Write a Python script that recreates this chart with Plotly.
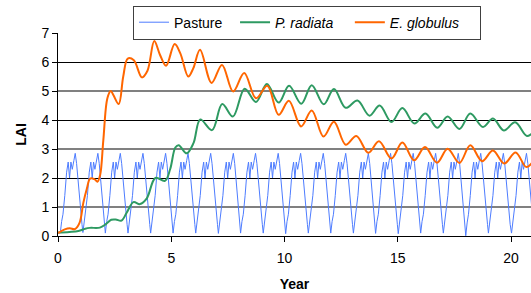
import plotly.graph_objects as go

# ---------------- data ----------------
# Pasture: one cycle per year; each cycle sampled at the same phase offsets (years after the cycle minimum)
pasture_cycle_start = [0.10, 1.10, 2.09, 3.09, 4.09, 5.08, 6.08, 7.08, 8.06, 9.06, 10.05,
                       11.05, 12.04, 13.04, 14.02, 15.02, 16.01, 17.01, 18.00, 19.00, 20.02]
pasture_phase = [0.00, 0.06, 0.12, 0.20, 0.28, 0.35, 0.41, 0.47, 0.53, 0.60, 0.66, 0.72, 0.80, 0.86, 0.92, 0.96]
pasture_lai = [
    [0.10, 0.50, 0.75, 1.40, 2.20, 2.55, 2.00, 2.55, 2.30, 2.60, 2.85, 2.50, 1.70, 1.10, 0.75, 0.40],
    [0.12, 0.50, 0.75, 1.40, 2.20, 2.55, 2.00, 2.55, 2.30, 2.60, 2.85, 2.50, 1.70, 1.10, 0.75, 0.40],
    [0.10, 0.50, 0.75, 1.40, 2.20, 2.55, 2.00, 2.55, 2.30, 2.60, 2.85, 2.50, 1.70, 1.10, 0.75, 0.40],
    [0.10, 0.50, 0.75, 1.40, 2.20, 2.55, 2.00, 2.55, 2.30, 2.60, 2.85, 2.50, 1.70, 1.10, 0.75, 0.40],
    [0.10, 0.50, 0.75, 1.40, 2.20, 2.55, 2.00, 2.55, 2.30, 2.60, 2.85, 2.50, 1.70, 1.10, 0.75, 0.40],
    [0.10, 0.50, 0.75, 1.40, 2.20, 2.55, 2.00, 2.55, 2.30, 2.60, 2.85, 2.50, 1.70, 1.10, 0.75, 0.40],
    [0.10, 0.50, 0.75, 1.40, 2.20, 2.55, 2.00, 2.55, 2.30, 2.60, 2.85, 2.50, 1.70, 1.10, 0.75, 0.40],
    [0.09, 0.50, 0.75, 1.40, 2.20, 2.55, 2.00, 2.55, 2.30, 2.60, 2.85, 2.50, 1.70, 1.10, 0.75, 0.40],
    [0.10, 0.50, 0.75, 1.40, 2.20, 2.55, 2.00, 2.55, 2.30, 2.60, 2.85, 2.50, 1.70, 1.10, 0.75, 0.40],
    [0.10, 0.50, 0.75, 1.40, 2.20, 2.55, 2.00, 2.55, 2.30, 2.60, 2.85, 2.50, 1.70, 1.10, 0.75, 0.40],
    [0.08, 0.50, 0.75, 1.40, 2.20, 2.55, 2.00, 2.55, 2.30, 2.60, 2.85, 2.50, 1.70, 1.10, 0.75, 0.40],
    [0.10, 0.50, 0.75, 1.40, 2.20, 2.55, 2.00, 2.55, 2.30, 2.60, 2.85, 2.50, 1.70, 1.10, 0.75, 0.40],
    [0.10, 0.50, 0.75, 1.40, 2.20, 2.55, 2.00, 2.55, 2.30, 2.60, 2.85, 2.50, 1.70, 1.10, 0.75, 0.40],
    [0.10, 0.50, 0.75, 1.40, 2.20, 2.55, 2.00, 2.55, 2.30, 2.60, 2.85, 2.50, 1.70, 1.10, 0.75, 0.40],
    [0.09, 0.50, 0.75, 1.40, 2.20, 2.55, 2.00, 2.55, 2.30, 2.60, 2.85, 2.50, 1.70, 1.10, 0.75, 0.40],
    [0.08, 0.50, 0.75, 1.40, 2.20, 2.55, 2.00, 2.55, 2.30, 2.60, 2.85, 2.50, 1.70, 1.10, 0.75, 0.40],
    [0.10, 0.50, 0.75, 1.40, 2.20, 2.55, 2.00, 2.55, 2.30, 2.60, 2.85, 2.50, 1.70, 1.10, 0.75, 0.40],
    [0.10, 0.50, 0.75, 1.40, 2.20, 2.55, 2.00, 2.55, 2.30, 2.60, 2.85, 2.50, 1.70, 1.10, 0.75, 0.40],
    [0.01, 0.45, 0.75, 1.40, 2.20, 2.55, 2.00, 2.55, 2.30, 2.60, 2.85, 2.50, 1.70, 1.10, 0.75, 0.40],
    [0.10, 0.50, 0.75, 1.40, 2.20, 2.55, 2.00, 2.55, 2.30, 2.60, 2.85, 2.50, 1.70, 1.10, 0.75, 0.40],
    [0.10, 0.50, 0.75, 1.40, 2.20, 2.55, 2.00, 2.55, 2.30, 2.60, 2.85, 2.50, 1.70, 1.10, 0.75, 0.40],
]

radiata_year = [0.0, 0.5, 0.9, 1.2, 1.4, 1.85, 2.1, 2.35, 2.55, 2.8, 3.03, 3.33, 3.62, 3.92, 4.3, 4.72,
                4.95, 5.18, 5.33, 5.68, 5.98, 6.28, 6.8, 7.25, 7.72, 8.24, 8.74, 9.22, 9.74, 10.2,
                10.74, 11.2, 11.73, 12.18, 12.7, 13.22, 13.75, 14.2, 14.72, 15.2, 15.73, 16.22,
                16.74, 17.2, 17.72, 18.2, 18.76, 19.2, 19.68, 20.18, 20.7, 21.0]
radiata_lai = [0.12, 0.14, 0.17, 0.25, 0.28, 0.29, 0.4, 0.56, 0.57, 0.53, 0.8, 1.17, 1.1, 1.3, 2.0, 1.9,
               2.3, 3.05, 3.13, 2.85, 3.2, 4.02, 3.65, 4.55, 4.12, 5.08, 4.62, 5.24, 4.6, 5.18,
               4.56, 5.2, 4.54, 5.07, 4.42, 4.67, 4.15, 4.5, 3.93, 4.41, 3.88, 4.22,
               3.73, 4.12, 3.69, 4.22, 3.76, 4.05, 3.64, 3.92, 3.45, 3.6]

globulus_year = [0.0, 0.3, 0.52, 0.75, 0.95, 1.12, 1.27, 1.42, 1.62, 1.74, 1.86, 2.0, 2.18, 2.33, 2.45,
                 2.68, 2.88, 3.08, 3.35, 3.7, 3.95, 4.25, 4.5, 4.77, 5.15, 5.4, 5.75, 5.97, 6.27,
                 6.78, 7.24, 7.73, 8.22, 8.74, 9.24, 9.74, 10.19, 10.73, 11.2, 11.72, 12.18, 12.7,
                 13.17, 13.7, 14.17, 14.72, 15.2, 15.72, 16.2, 16.73, 17.2, 17.72, 18.2, 18.72,
                 19.2, 19.7, 20.2, 20.67, 20.95]
globulus_lai = [0.1, 0.23, 0.27, 0.24, 0.45, 1.15, 1.62, 1.98, 1.95, 1.87, 2.1, 3.3, 4.75, 5.0, 4.85,
                4.55, 5.5, 6.12, 6.06, 5.47, 5.7, 6.72, 6.25, 5.87, 6.62, 6.3, 5.5, 5.78, 6.42,
                5.28, 5.9, 4.98, 5.62, 4.75, 5.18, 4.18, 4.66, 3.78, 4.33, 3.43, 3.94, 3.15,
                3.45, 2.87, 3.27, 2.67, 3.22, 2.61, 3.07, 2.53, 3.01, 2.52, 3.13, 2.58,
                2.95, 2.5, 2.88, 2.38, 2.55]

x_ticks = [0, 5, 10, 15, 20]
y_ticks = [0, 1, 2, 3, 4, 5, 6, 7]
grid_dark = [2, 4, 6, 7]
grid_grey = [1, 3, 5]

# ---------------- build pasture series ----------------
pasture_year = [0.0]
pasture_vals = [0.12]
for start, row in zip(pasture_cycle_start, pasture_lai):
    for ph, v in zip(pasture_phase, row):
        pasture_year.append(round(start + ph, 3))
        pasture_vals.append(v)

FONT = "Liberation Sans, Arial, sans-serif"
NB = "\u00a0"

fig = go.Figure()
fig.add_trace(go.Scatter(x=pasture_year, y=pasture_vals, mode="lines", name="Pasture" + NB * 2,
                         line=dict(color="#4d7cff", width=1), yaxis="y"))
fig.add_trace(go.Scatter(x=radiata_year, y=radiata_lai, mode="lines", name="<i>P. radiata</i>" + NB * 3,
                         line=dict(color="#2e9a62", width=2, shape="spline", smoothing=1.0), yaxis="y2"))
fig.add_trace(go.Scatter(x=globulus_year, y=globulus_lai, mode="lines", name="<i>E. globulus</i>" + NB * 4,
                         line=dict(color="#ff6600", width=2, shape="spline", smoothing=1.0), yaxis="y3"))

fig.update_layout(
    width=531, height=293,
    margin=dict(l=58, r=0, t=33, b=57, autoexpand=False),
    paper_bgcolor="white", plot_bgcolor="white",
    font=dict(family=FONT, size=14, color="black"),
    showlegend=True,
    legend=dict(orientation="h", x=0.1586, xanchor="left", y=1.135, yanchor="top",
                bordercolor="#404040", borderwidth=1, bgcolor="white",
                font=dict(family=FONT, size=14), tracegroupgap=0),
    xaxis=dict(range=[0, 20.88], tickvals=x_ticks, ticks="outside", ticklen=5, tickcolor="black",
               showline=True, linecolor="black", linewidth=1, showgrid=False, zeroline=False,
               tickfont=dict(family=FONT, size=14), ticklabelstandoff=4,
               title=dict(text="<b>Year</b>", font=dict(family=FONT, size=14), standoff=14)),
    yaxis=dict(range=[0, 7], tickvals=y_ticks, ticks="outside", ticklen=5, tickcolor="black",
               showline=True, linecolor="black", linewidth=1, showgrid=False, zeroline=False,
               tickfont=dict(family=FONT, size=14),
               title=dict(text="<b>LAI</b>", font=dict(family=FONT, size=14), standoff=11)),
    yaxis2=dict(overlaying="y", anchor="x", range=[0, 7], tickvals=grid_dark, showticklabels=False,
                ticks="", showgrid=True, gridcolor="black", gridwidth=1, zeroline=False, showline=False),
    yaxis3=dict(overlaying="y", anchor="x", range=[0, 7], tickvals=grid_grey, showticklabels=False,
                ticks="", showgrid=True, gridcolor="#808080", gridwidth=2, zeroline=False, showline=False),
)

fig.write_html("out.html", config={"displayModeBar": False},
               post_script="document.body.style.margin='0px';")
